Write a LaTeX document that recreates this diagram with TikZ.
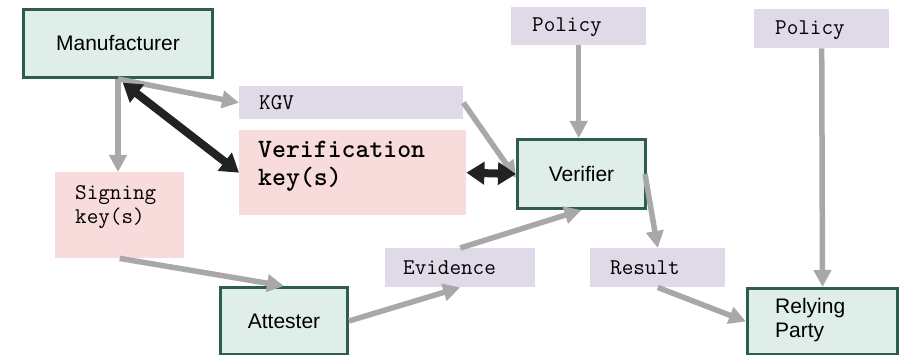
\documentclass[tikz,border=0pt]{standalone}
\usepackage{fontspec}
\setmainfont{Liberation Sans}
\usetikzlibrary{arrows.meta,calc}
\definecolor{gfill}{HTML}{DFEEE8}
\definecolor{gline}{HTML}{2F5D4C}
\definecolor{lav}{HTML}{E0DAE8}
\definecolor{pinkb}{HTML}{F8DBDB}
\definecolor{agray}{HTML}{A8A8A8}
\definecolor{ablack}{HTML}{222222}
\tikzset{
  gbox/.style={draw=gline,fill=gfill,line width=3pt,inner sep=0pt,anchor=north west,
    font=\fontsize{21}{24}\selectfont},
  lbox/.style={fill=lav,inner sep=0pt,anchor=north west},
  pbox/.style={fill=pinkb,inner sep=0pt,anchor=north west},
  mtxt/.style={anchor=west,inner sep=0pt,align=left,font=\ttfamily\fontsize{22.5}{24}\selectfont},
  stxt/.style={anchor=west,inner sep=0pt,align=left,font=\fontsize{21}{24}\selectfont},
  garrow/.style={draw=agray,line width=5.5pt,-{Triangle[length=17pt,width=17pt]}},
  barrow/.style={draw=ablack,line width=8pt,{Triangle[length=18pt,width=22pt]}-{Triangle[length=18pt,width=22pt]}},
}
\begin{document}
\begin{tikzpicture}[x=1pt,y=-1pt]
\useasboundingbox[fill=white] (0,0) rectangle (905,355);
% boxes
\node[gbox,minimum width=189pt,minimum height=68pt] (mfr) at (22,8) {Manufacturer};
\node[lbox,minimum width=224pt,minimum height=33pt] (kgv) at (239,86) {};
\node[pbox,minimum width=227pt,minimum height=85pt] (vkey) at (239,130) {};
\node[pbox,minimum width=129pt,minimum height=86pt] (sig) at (55,172) {};
\node[gbox,minimum width=127pt,minimum height=67pt] (att) at (219,286) {Attester};
\node[lbox,minimum width=150pt,minimum height=39pt] (ev) at (385,248) {};
\node[gbox,minimum width=128pt,minimum height=69pt] (ver) at (516,138) {Verifier};
\node[lbox,minimum width=135pt,minimum height=38pt] (pol1) at (511,7) {};
\node[lbox,minimum width=135pt,minimum height=39pt] (pol2) at (754,9) {};
\node[lbox,minimum width=135pt,minimum height=39pt] (res) at (590,248) {};
\node[gbox,minimum width=150pt,minimum height=66pt] (rp) at (746,287) {};
% texts
\node[mtxt] (tkgv) at (259,103) {KGV};
\node[mtxt,font=\ttfamily\bfseries\fontsize{26.5}{28}\selectfont] (tvkey) at (258,166) {Verification\\key(s)};
\node[mtxt] (tsig) at (75,207) {Signing\\key(s)};
\node[mtxt] (tev) at (403,268) {Evidence};
\node[mtxt] (tpol1) at (532,27) {Policy};
\node[mtxt] (tpol2) at (775,30) {Policy};
\node[mtxt] (tres) at (610,268) {Result};
\node[stxt] (trp) at (775,320) {Relying\\Party};
% connectors
\draw[garrow] (mfr.south) -- (mfr.south |- sig.north);
\draw[garrow] (mfr.south) -- (kgv.west);
\draw[garrow] (kgv.east) -- ($(ver.west)+(0,4)$);
\draw[garrow] (pol1.south) -- (pol1.south |- ver.north);
\draw[garrow] ($(ver.east)+(-2,0)$) -- (res.north);
\draw[garrow] (pol2.south) -- (rp.north);
\draw[garrow] (res.south) -- (rp.west);
\draw[garrow] (ev.north) -- (ver.south);
\draw[garrow] (att.east) -- (ev.south);
\draw[garrow] (sig.south) -- (att.north);
\draw[barrow,shorten <=6pt] (mfr.south) -- (vkey.west);
\draw[barrow] (vkey.east) -- (ver.west);
\end{tikzpicture}
\end{document}
